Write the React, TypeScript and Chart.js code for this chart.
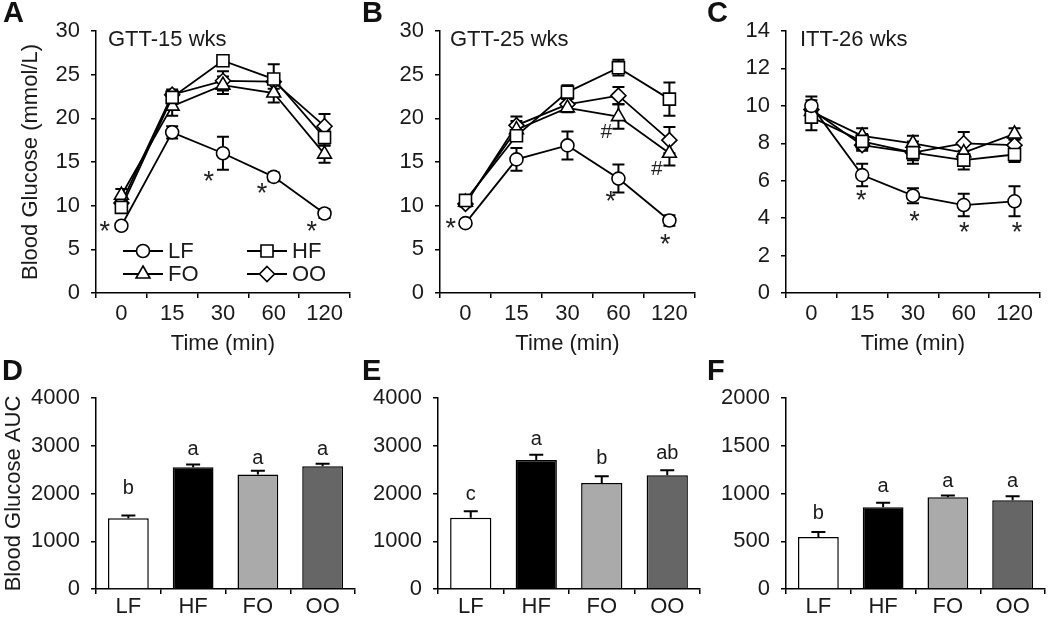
import React, { useEffect, useRef } from 'react';
import { Chart, registerables } from 'chart.js';

Chart.register(...registerables);

const FONT = "'Liberation Sans', Arial, Helvetica, sans-serif";
Chart.defaults.font.family = FONT;
Chart.defaults.color = '#1a1a1a';

// ---------- categories ----------
const TIMES = ['0', '15', '30', '60', '120'];
const GROUPS = ['LF', 'HF', 'FO', 'OO'];

// ---------- A: GTT-15 wks (mmol/L) ----------
const A_LF = [7.7, 18.4, 16.0, 13.3, 9.1];
const A_LF_ERR = [0.2, 0.7, 1.9, 0.5, 0.5];
const A_HF = [9.8, 22.4, 26.6, 24.5, 17.8];
const A_HF_ERR = [0.4, 0.7, 0.4, 1.7, 0.9];
const A_FO = [11.2, 21.4, 23.8, 22.9, 15.9];
const A_FO_ERR = [0.7, 1.1, 1.0, 1.1, 1.0];
const A_OO = [10.3, 22.7, 24.3, 24.2, 19.1];
const A_OO_ERR = [0.4, 0.6, 1.1, 0.8, 1.4];
const A_STAR_X = [-0.33, 1.72, 2.77, 3.75];
const A_STAR_Y = [7.6, 13.3, 12.0, 7.6];

// ---------- B: GTT-25 wks ----------
const B_LF = [8.0, 15.3, 16.9, 13.1, 8.3];
const B_LF_ERR = [0.2, 1.3, 1.6, 1.6, 0.6];
const B_HF = [10.6, 18.0, 23.0, 25.8, 22.2];
const B_HF_ERR = [0.3, 0.5, 0.8, 0.9, 1.9];
const B_FO = [10.4, 18.7, 21.2, 20.2, 16.0];
const B_FO_ERR = [0.3, 1.0, 0.5, 1.4, 1.4];
const B_OO = [10.2, 19.2, 21.6, 22.6, 17.5];
const B_OO_ERR = [0.3, 1.0, 0.6, 1.0, 1.5];
const B_STAR_X = [-0.29, 2.85, 3.92];
const B_STAR_Y = [8.0, 11.1, 6.1];
const B_HASH_X = [2.76, 3.75];
const B_HASH_Y = [18.4, 14.2];

// ---------- C: ITT-26 wks ----------
const C_LF = [10.0, 6.3, 5.2, 4.7, 4.9];
const C_LF_ERR = [0.5, 0.6, 0.4, 0.6, 0.8];
const C_HF = [9.4, 8.1, 7.5, 7.1, 7.4];
const C_HF_ERR = [0.7, 0.4, 0.6, 0.5, 0.4];
const C_FO = [9.7, 8.4, 8.0, 7.5, 8.5];
const C_FO_ERR = [0.4, 0.4, 0.4, 0.5, 0.3];
const C_OO = [9.8, 7.9, 7.5, 8.0, 7.9];
const C_OO_ERR = [0.5, 0.3, 0.4, 0.6, 0.3];
const C_STAR_X = [0.98, 2.03, 3.01, 4.05];
const C_STAR_Y = [5.2, 4.1, 3.5, 3.5];

// ---------- D/E/F: AUC ----------
const D_AUC = [1480, 2550, 2400, 2570];
const D_ERR = [60, 55, 75, 55];
const D_LETTERS = ['b', 'a', 'a', 'a'];
const D_LETTER_Y = [1990, 2806, 2618, 2806];

const E_AUC = [1490, 2700, 2220, 2380];
const E_ERR = [140, 110, 140, 105];
const E_LETTERS = ['c', 'a', 'b', 'ab'];
const E_LETTER_Y = [1874, 3017, 2610, 2730];

const F_AUC = [545, 855, 960, 930];
const F_ERR = [52, 48, 18, 42];
const F_LETTERS = ['b', 'a', 'a', 'a'];
const F_LETTER_Y = [730, 1013, 1071, 1071];

const BAR_COLORS = ['#ffffff', '#000000', '#aaaaaa', '#666666'];
const POINT_STYLES = ['circle', 'rect', 'triangle', 'rectRot'];
const POINT_RADII = [6.5, 8.5, 8, 7.5];

const FS = 22;

function drawMarker(ctx: CanvasRenderingContext2D, style: string, x: number, y: number, r: number) {
  ctx.beginPath();
  if (style === 'circle') ctx.arc(x, y, r, 0, Math.PI * 2);
  else if (style === 'rect') {
    const s = r * Math.SQRT1_2;
    ctx.rect(x - s, y - s, 2 * s, 2 * s);
  } else if (style === 'triangle') {
    ctx.moveTo(x, y - r);
    ctx.lineTo(x + 0.866 * r, y + 0.5 * r);
    ctx.lineTo(x - 0.866 * r, y + 0.5 * r);
    ctx.closePath();
  } else {
    ctx.moveTo(x, y - r);
    ctx.lineTo(x + r, y);
    ctx.lineTo(x, y + r);
    ctx.lineTo(x - r, y);
    ctx.closePath();
  }
  ctx.fillStyle = '#fff';
  ctx.fill();
  ctx.lineWidth = 1.6;
  ctx.strokeStyle = '#000';
  ctx.stroke();
}

function drawErrors(chart: any, both: boolean) {
  const { ctx } = chart;
  const ys = chart.scales.y;
  const cap = both ? 6 : 7;
  ctx.save();
  ctx.strokeStyle = '#000';
  ctx.lineWidth = 2;
  chart.data.datasets.forEach((ds: any, i: number) => {
    const errs = ds.errors;
    if (!errs) return;
    const meta = chart.getDatasetMeta(i);
    meta.data.forEach((el: any, j: number) => {
      const v = ds.data[j];
      const e = errs[j];
      const x = el.x;
      const yt = ys.getPixelForValue(v + e);
      const yb = ys.getPixelForValue(both ? v - e : v);
      ctx.beginPath();
      ctx.moveTo(x, yt);
      ctx.lineTo(x, yb);
      ctx.moveTo(x - cap, yt);
      ctx.lineTo(x + cap, yt);
      if (both) {
        ctx.moveTo(x - cap, yb);
        ctx.lineTo(x + cap, yb);
      }
      ctx.stroke();
    });
  });
  ctx.restore();
}

const errorBars = {
  id: 'errorBars',
  beforeDatasetsDraw(chart: any) {
    if (chart.config.type === 'line') drawErrors(chart, true);
  },
  afterDatasetsDraw(chart: any) {
    if (chart.config.type === 'bar') drawErrors(chart, false);
  },
};

type Mark = { xs: number[]; ys: number[]; text: string; font: string; dy: number };
type DecoCfg = {
  letter: string;
  lx: number;
  ly: number;
  title?: string;
  titleDx?: number;
  marks?: Mark[];
  letters?: string[];
  letterY?: number[];
  legend?: boolean;
};

function makeDeco(cfg: DecoCfg) {
  return {
    id: 'deco',
    afterDraw(chart: any) {
      const { ctx, chartArea: ca, scales } = chart;
      const xs = scales.x;
      const ys = scales.y;
      ctx.save();
      ctx.fillStyle = '#111';
      ctx.font = `bold 29px ${FONT}`;
      ctx.textAlign = 'left';
      ctx.textBaseline = 'alphabetic';
      ctx.fillText(cfg.letter, cfg.lx, cfg.ly);
      if (cfg.title) {
        ctx.font = `${FS}px ${FONT}`;
        ctx.textBaseline = 'middle';
        ctx.fillStyle = '#1a1a1a';
        ctx.fillText(cfg.title, ca.left + (cfg.titleDx || 10), ca.top + 9);
      }
      (cfg.marks || []).forEach((m) => {
        ctx.font = m.font;
        ctx.textAlign = 'center';
        ctx.textBaseline = 'middle';
        ctx.fillStyle = '#222';
        m.xs.forEach((xv, k) => {
          ctx.fillText(m.text, xs.getPixelForValue(xv), ys.getPixelForValue(m.ys[k]) + m.dy);
        });
      });
      if (cfg.letters && cfg.letterY) {
        const meta = chart.getDatasetMeta(0);
        ctx.font = `20px ${FONT}`;
        ctx.textAlign = 'center';
        ctx.textBaseline = 'alphabetic';
        ctx.fillStyle = '#1a1a1a';
        cfg.letters.forEach((t, k) => {
          ctx.fillText(t, meta.data[k].x, ys.getPixelForValue(cfg.letterY![k]));
        });
      }
      if (cfg.legend) {
        const cols = [ca.left + 27, ca.left + 151];
        const rows = [ca.bottom - 42, ca.bottom - 19];
        GROUPS.forEach((g, k) => {
          const x0 = cols[k % 2];
          const y = rows[Math.floor(k / 2)];
          ctx.beginPath();
          ctx.moveTo(x0, y);
          ctx.lineTo(x0 + 40, y);
          ctx.lineWidth = 1.8;
          ctx.strokeStyle = '#000';
          ctx.stroke();
          drawMarker(ctx, POINT_STYLES[k], x0 + 20, y, POINT_RADII[k]);
          ctx.fillStyle = '#1a1a1a';
          ctx.font = `${FS}px ${FONT}`;
          ctx.textAlign = 'left';
          ctx.textBaseline = 'middle';
          ctx.fillText(g, x0 + 45, y + 1);
        });
      }
      ctx.restore();
    },
  };
}

const AXIS_GRID = { drawOnChartArea: false, drawTicks: true, tickLength: 5, color: '#000', lineWidth: 1.5 };
const AXIS_BORDER = { color: '#000', width: 1.5 };
const plainTick = (v: any) => String(v);

type LineCfg = {
  series: number[][];
  errs: number[][];
  yMax: number;
  yStep: number;
  yWidth: number;
  padTop: number;
  padRight: number;
  xHeight: number;
  yTitle?: string;
  yTitlePad?: number;
  deco: any;
};

function lineConfig(p: LineCfg): any {
  return {
    type: 'line',
    data: {
      labels: TIMES,
      datasets: GROUPS.map((g, k) => ({
        label: g,
        data: p.series[k],
        errors: p.errs[k],
        pointStyle: POINT_STYLES[k],
        pointRadius: POINT_RADII[k],
        pointHoverRadius: POINT_RADII[k],
        pointBackgroundColor: '#fff',
        pointBorderColor: '#000',
        pointBorderWidth: 1.6,
        borderColor: '#000',
        borderWidth: 1.8,
        tension: 0,
        fill: false,
        clip: false,
      })),
    },
    options: {
      animation: false,
      responsive: false,
      events: [],
      layout: { padding: { top: p.padTop, right: p.padRight, left: 0, bottom: 0 } },
      plugins: { legend: { display: false }, tooltip: { enabled: false } },
      scales: {
        x: {
          type: 'category',
          offset: true,
          grid: { ...AXIS_GRID, offset: true },
          border: AXIS_BORDER,
          ticks: { font: { size: FS }, color: '#1a1a1a', padding: 3, maxRotation: 0, autoSkip: false },
          title: { display: true, text: 'Time (min)', font: { size: FS }, color: '#1a1a1a', padding: { top: 0, bottom: 3 } },
          afterFit: (s: any) => {
            s.height = p.xHeight;
          },
        },
        y: {
          min: 0,
          max: p.yMax,
          ticks: { stepSize: p.yStep, font: { size: FS }, color: '#1a1a1a', padding: 11, callback: plainTick },
          grid: AXIS_GRID,
          border: AXIS_BORDER,
          title: p.yTitle
            ? { display: true, text: p.yTitle, font: { size: FS }, color: '#1a1a1a', padding: { top: p.yTitlePad || 0, bottom: 0 } }
            : { display: false },
          afterFit: (s: any) => {
            s.width = p.yWidth;
          },
        },
      },
    },
    plugins: [errorBars, p.deco],
  };
}

type BarCfg = {
  values: number[];
  errs: number[];
  yMax: number;
  yStep: number;
  yWidth: number;
  padTop: number;
  padRight: number;
  xHeight: number;
  yTitle?: string;
  yTitlePad?: number;
  deco: any;
};

function barConfig(p: BarCfg): any {
  return {
    type: 'bar',
    data: {
      labels: GROUPS,
      datasets: [
        {
          label: 'AUC',
          data: p.values,
          errors: p.errs,
          backgroundColor: BAR_COLORS,
          borderColor: '#000',
          borderWidth: 1.5,
          barPercentage: 0.63,
          categoryPercentage: 1,
        },
      ],
    },
    options: {
      animation: false,
      responsive: false,
      events: [],
      layout: { padding: { top: p.padTop, right: p.padRight, left: 0, bottom: 0 } },
      plugins: { legend: { display: false }, tooltip: { enabled: false } },
      scales: {
        x: {
          grid: { ...AXIS_GRID, offset: true },
          border: AXIS_BORDER,
          ticks: { font: { size: FS }, color: '#1a1a1a', padding: 0, maxRotation: 0 },
          afterFit: (s: any) => {
            s.height = p.xHeight;
          },
        },
        y: {
          min: 0,
          max: p.yMax,
          ticks: { stepSize: p.yStep, font: { size: FS }, color: '#1a1a1a', padding: 11, callback: plainTick },
          grid: AXIS_GRID,
          border: AXIS_BORDER,
          title: p.yTitle
            ? { display: true, text: p.yTitle, font: { size: FS }, color: '#1a1a1a', padding: { top: p.yTitlePad || 0, bottom: 0 } }
            : { display: false },
          afterFit: (s: any) => {
            s.width = p.yWidth;
          },
        },
      },
    },
    plugins: [errorBars, p.deco],
  };
}

const STAR_FONT = `27px ${FONT}`;
const HASH_FONT = `italic 21px ${FONT}`;

function ChartCanvas(props: { left: number; top: number; width: number; height: number; make: () => any }) {
  const ref = useRef<HTMLCanvasElement>(null);
  useEffect(() => {
    const chart = new Chart(ref.current as HTMLCanvasElement, props.make());
    return () => chart.destroy();
  }, []);
  const { left, top, width, height } = props;
  return (
    <canvas
      ref={ref}
      width={width}
      height={height}
      style={{ position: 'absolute', left, top, width, height }}
    />
  );
}

export default function App() {
  return (
    <div style={{ position: 'fixed', left: 0, top: 0, width: 1050, height: 617, background: '#fff', overflow: 'hidden' }}>
      <ChartCanvas
        left={0}
        top={0}
        width={360}
        height={360}
        make={() =>
          lineConfig({
            series: [A_LF, A_HF, A_FO, A_OO],
            errs: [A_LF_ERR, A_HF_ERR, A_FO_ERR, A_OO_ERR],
            yMax: 30,
            yStep: 5,
            yWidth: 96,
            padTop: 31,
            padRight: 5,
            xHeight: 67,
            yTitle: 'Blood Glucose (mmol/L)',
            yTitlePad: 18,
            deco: makeDeco({
              letter: 'A',
              lx: 3,
              ly: 22,
              title: 'GTT-15 wks',
              titleDx: 12,
              marks: [{ xs: A_STAR_X, ys: A_STAR_Y, text: '*', font: STAR_FONT, dy: 6 }],
              legend: true,
            }),
          })
        }
      />
      <ChartCanvas
        left={345}
        top={0}
        width={360}
        height={360}
        make={() =>
          lineConfig({
            series: [B_LF, B_HF, B_FO, B_OO],
            errs: [B_LF_ERR, B_HF_ERR, B_FO_ERR, B_OO_ERR],
            yMax: 30,
            yStep: 5,
            yWidth: 95,
            padTop: 31,
            padRight: 7,
            xHeight: 67,
            deco: makeDeco({
              letter: 'B',
              lx: 17,
              ly: 22,
              title: 'GTT-25 wks',
              titleDx: 10,
              marks: [
                { xs: B_STAR_X, ys: B_STAR_Y, text: '*', font: STAR_FONT, dy: 6 },
                { xs: B_HASH_X, ys: B_HASH_Y, text: '#', font: HASH_FONT, dy: 0 },
              ],
            }),
          })
        }
      />
      <ChartCanvas
        left={700}
        top={0}
        width={350}
        height={360}
        make={() =>
          lineConfig({
            series: [C_LF, C_HF, C_FO, C_OO],
            errs: [C_LF_ERR, C_HF_ERR, C_FO_ERR, C_OO_ERR],
            yMax: 14,
            yStep: 2,
            yWidth: 86,
            padTop: 31,
            padRight: 5,
            xHeight: 67,
            deco: makeDeco({
              letter: 'C',
              lx: 7,
              ly: 22,
              title: 'ITT-26 wks',
              titleDx: 14,
              marks: [{ xs: C_STAR_X, ys: C_STAR_Y, text: '*', font: STAR_FONT, dy: 6 }],
            }),
          })
        }
      />
      <ChartCanvas
        left={0}
        top={350}
        width={360}
        height={267}
        make={() =>
          barConfig({
            values: D_AUC,
            errs: D_ERR,
            yMax: 4000,
            yStep: 1000,
            yWidth: 96,
            padTop: 48,
            padRight: 5,
            xHeight: 28,
            yTitle: 'Blood Glucose AUC',
            yTitlePad: 1,
            deco: makeDeco({ letter: 'D', lx: 2, ly: 30, letters: D_LETTERS, letterY: D_LETTER_Y }),
          })
        }
      />
      <ChartCanvas
        left={345}
        top={350}
        width={360}
        height={267}
        make={() =>
          barConfig({
            values: E_AUC,
            errs: E_ERR,
            yMax: 4000,
            yStep: 1000,
            yWidth: 93,
            padTop: 48,
            padRight: 5,
            xHeight: 28,
            deco: makeDeco({ letter: 'E', lx: 17, ly: 30, letters: E_LETTERS, letterY: E_LETTER_Y }),
          })
        }
      />
      <ChartCanvas
        left={700}
        top={350}
        width={350}
        height={267}
        make={() =>
          barConfig({
            values: F_AUC,
            errs: F_ERR,
            yMax: 2000,
            yStep: 500,
            yWidth: 86,
            padTop: 48,
            padRight: 5,
            xHeight: 28,
            deco: makeDeco({ letter: 'F', lx: 7, ly: 30, letters: F_LETTERS, letterY: F_LETTER_Y }),
          })
        }
      />
    </div>
  );
}
